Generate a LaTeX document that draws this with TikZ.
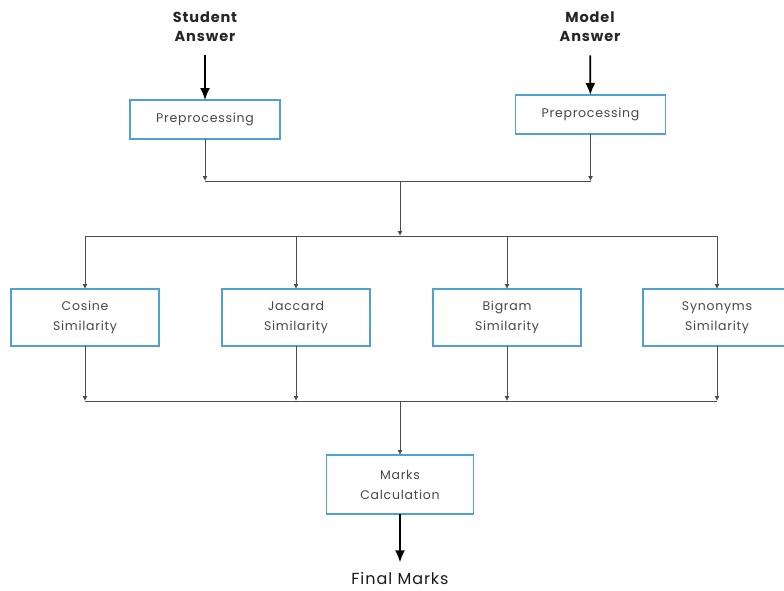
\documentclass[tikz,border=0pt]{standalone}
\usepackage{fontspec}
\setmainfont{Poppins}
\newfontfamily\labelfont[LetterSpace=6]{Poppins}
\usetikzlibrary{arrows.meta,positioning}
\definecolor{boxblue}{RGB}{80,160,210}

\begin{document}
\begin{tikzpicture}[x=1pt, y=1pt, node distance=10pt,
  box/.style={rectangle,draw=boxblue,line width=1.4pt,outer sep=0pt,fill=white,align=center,minimum width=148pt,minimum height=57pt,inner sep=2pt,text=black!72,font=\labelfont\fontsize{12.5}{20}\selectfont},
  line/.style={draw=black!70,line width=0.9pt,-{Latex[length=5pt,width=5pt]}},
  wire/.style={draw=black!70,line width=0.9pt},
  bigline/.style={draw=black,line width=1.8pt,-{Latex[length=12pt,width=10pt]}},
  head/.style={align=center,text=black!85,font=\labelfont\bfseries\fontsize{14.5}{19}\selectfont}]
\useasboundingbox (0,0) rectangle (784,-590);
\node[head] (student) at (205,-27) {Student\\Answer};
\node[head] (model) at (590,-27) {Model\\Answer};
\node[box,minimum width=150pt,minimum height=39pt] (prepS) at (205,-119.5) {Preprocessing};
\node[box,minimum width=150pt,minimum height=39pt] (prepM) at (590.5,-114.5) {Preprocessing};
\node[box] (cosine) at (85,-317.5) {Cosine\\Similarity};
\node[box,right=63pt of cosine] (jaccard) {Jaccard\\Similarity};
\node[box,right=63pt of jaccard] (bigram) {Bigram\\Similarity};
\node[box,right=62pt of bigram] (synonym) {Synonyms\\Similarity};
\node[box,minimum width=147pt,minimum height=59pt] (marks) at (400,-484.5) {Marks\\Calculation};
\node[align=center,text=black!90,font=\labelfont\fontsize{16}{19}\selectfont] (final) at (400,-578) {Final Marks};
\coordinate (top) at (400,-181);
\coordinate (split) at (400,-236);
\coordinate (merge) at (400,-401);
% inputs
\draw[bigline,shorten <=10pt] (student) -- (prepS);
\draw[bigline,shorten <=10pt] (model) -- (prepM);
\draw[line] (prepS) -- (prepS |- top);
\draw[line] (prepM) -- (prepM |- top);
\draw[wire] (prepS |- top) -- (prepM |- top);
\draw[line] (top) -- (split);
% similarity measures
\draw[wire] (cosine |- split) -- (synonym |- split);
\foreach \m in {cosine,jaccard,bigram,synonym}
  \draw[line] (\m |- split) -- (\m);
\foreach \m in {cosine,jaccard,bigram,synonym}
  \draw[line] (\m) -- (\m |- merge);
\draw[wire] (cosine |- merge) -- (synonym |- merge);
\draw[line] (merge) -- (marks);
\draw[bigline,shorten >=6pt] (marks) -- (final);
\end{tikzpicture}
\end{document}
